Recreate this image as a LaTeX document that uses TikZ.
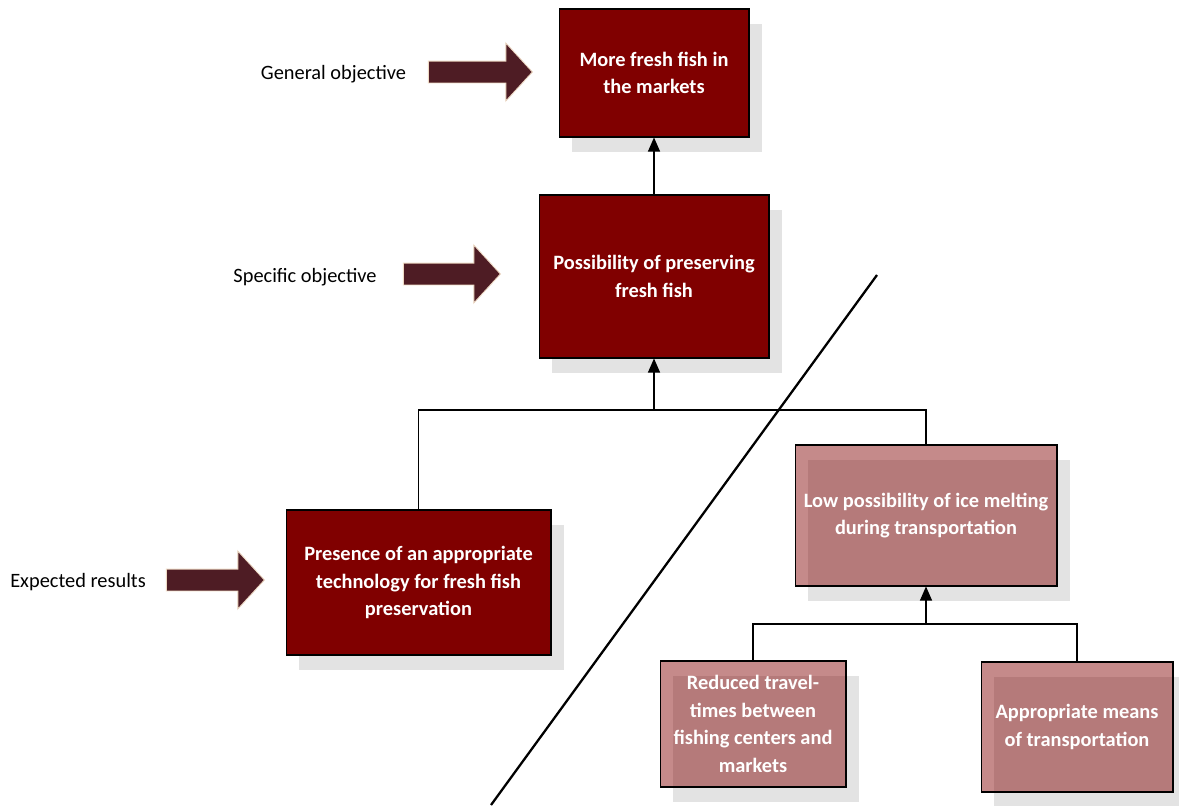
\documentclass[tikz,border=0pt]{standalone}
\usepackage{fontspec}
\setmainfont{Carlito}
\usepackage{xcolor}
\usetikzlibrary{shapes.arrows,shadows,arrows.meta}

\definecolor{maroon}{RGB}{128,0,0}
\definecolor{arrowbrown}{RGB}{78,28,36}
\definecolor{arrowedge}{RGB}{238,218,196}
\definecolor{shadowgray}{RGB}{227,227,227}

\begin{document}
\begin{tikzpicture}[x=0.02cm, y=-0.02cm]
    % Define styles
    \tikzset{
        objbox/.style={rectangle, draw=black, line width=0.6pt, fill=maroon, text=white, align=center,
            font=\fontsize{11.6}{15.6}\selectfont\bfseries, inner sep=2pt,
            drop shadow={shadow xshift=0.26cm, shadow yshift=-0.3cm, fill=shadowgray, fill opacity=1, opacity=1}},
        resbox/.style={objbox, fill opacity=0.46, text opacity=1, draw opacity=1},
        conn/.style={draw=black, line width=0.6pt},
        arrow/.style={conn, -{Triangle[length=0.28cm, width=0.24cm]}},
        fatarrow/.style={single arrow, draw=arrowedge, fill=arrowbrown, line width=0.5pt, inner xsep=0pt, inner ysep=0.21cm,
            minimum width=1.14cm, single arrow head extend=0.36cm, single arrow tip angle=95, anchor=tip},
        level/.style={font=\fontsize{11.6}{14}\selectfont}
    }
    \useasboundingbox (0,0) rectangle (1179,805);

    % Objectives
    \node [objbox, minimum width=3.8cm, minimum height=2.56cm] (markets) at (654,73) {More fresh fish in\\the markets};
    \node [objbox, minimum width=4.6cm, minimum height=3.26cm] (preserve) at (654,276.5) {Possibility of preserving\\fresh fish};

    % Results
    \node [objbox, minimum width=5.3cm, minimum height=2.9cm] (tech) at (418.5,582.5) {Presence of an appropriate\\technology for fresh fish\\preservation};
    \node [resbox, minimum width=5.24cm, minimum height=2.82cm] (melt) at (926,515.5) {Low possibility of ice melting\\during transportation};
    \node [resbox, minimum width=3.72cm, minimum height=2.52cm] (travel) at (753,724) {Reduced travel-\\times between\\fishing centers and\\markets};
    \node [resbox, minimum width=3.84cm, minimum height=2.6cm] (means) at (1077,727) {Appropriate means\\of transportation};

    % Level labels and pointers
    \node [level] (general) at (333.5,74) {General objective};
    \node [level] (specific) at (305,277) {Specific objective};
    \node [level] (expected) at (78,582) {Expected results};
    \node [fatarrow, minimum height=2.08cm] (ptgeneral) at (533,72) {};
    \node [fatarrow, minimum height=1.94cm] (ptspecific) at (501,274) {};
    \node [fatarrow, minimum height=1.96cm] (ptexpected) at (265,580) {};

    % Arrows
    \draw [arrow] (preserve.north) -- (markets.south);
    \coordinate (join) at (654,410);
    \draw [conn] (tech.north) |- (join) -| (melt.north);
    \draw [arrow] (join) -- (preserve.south);
    \coordinate (split) at (926,624);
    \draw [conn] (travel.north) |- (split) -| (means.north);
    \draw [arrow] (split) -- (melt.south);

    % Dividing line
    \coordinate (cuttop) at (877,275);
    \coordinate (cutbottom) at (491,805);
    \draw [line width=1.3pt] (cuttop) -- (cutbottom);
\end{tikzpicture}
\end{document}
